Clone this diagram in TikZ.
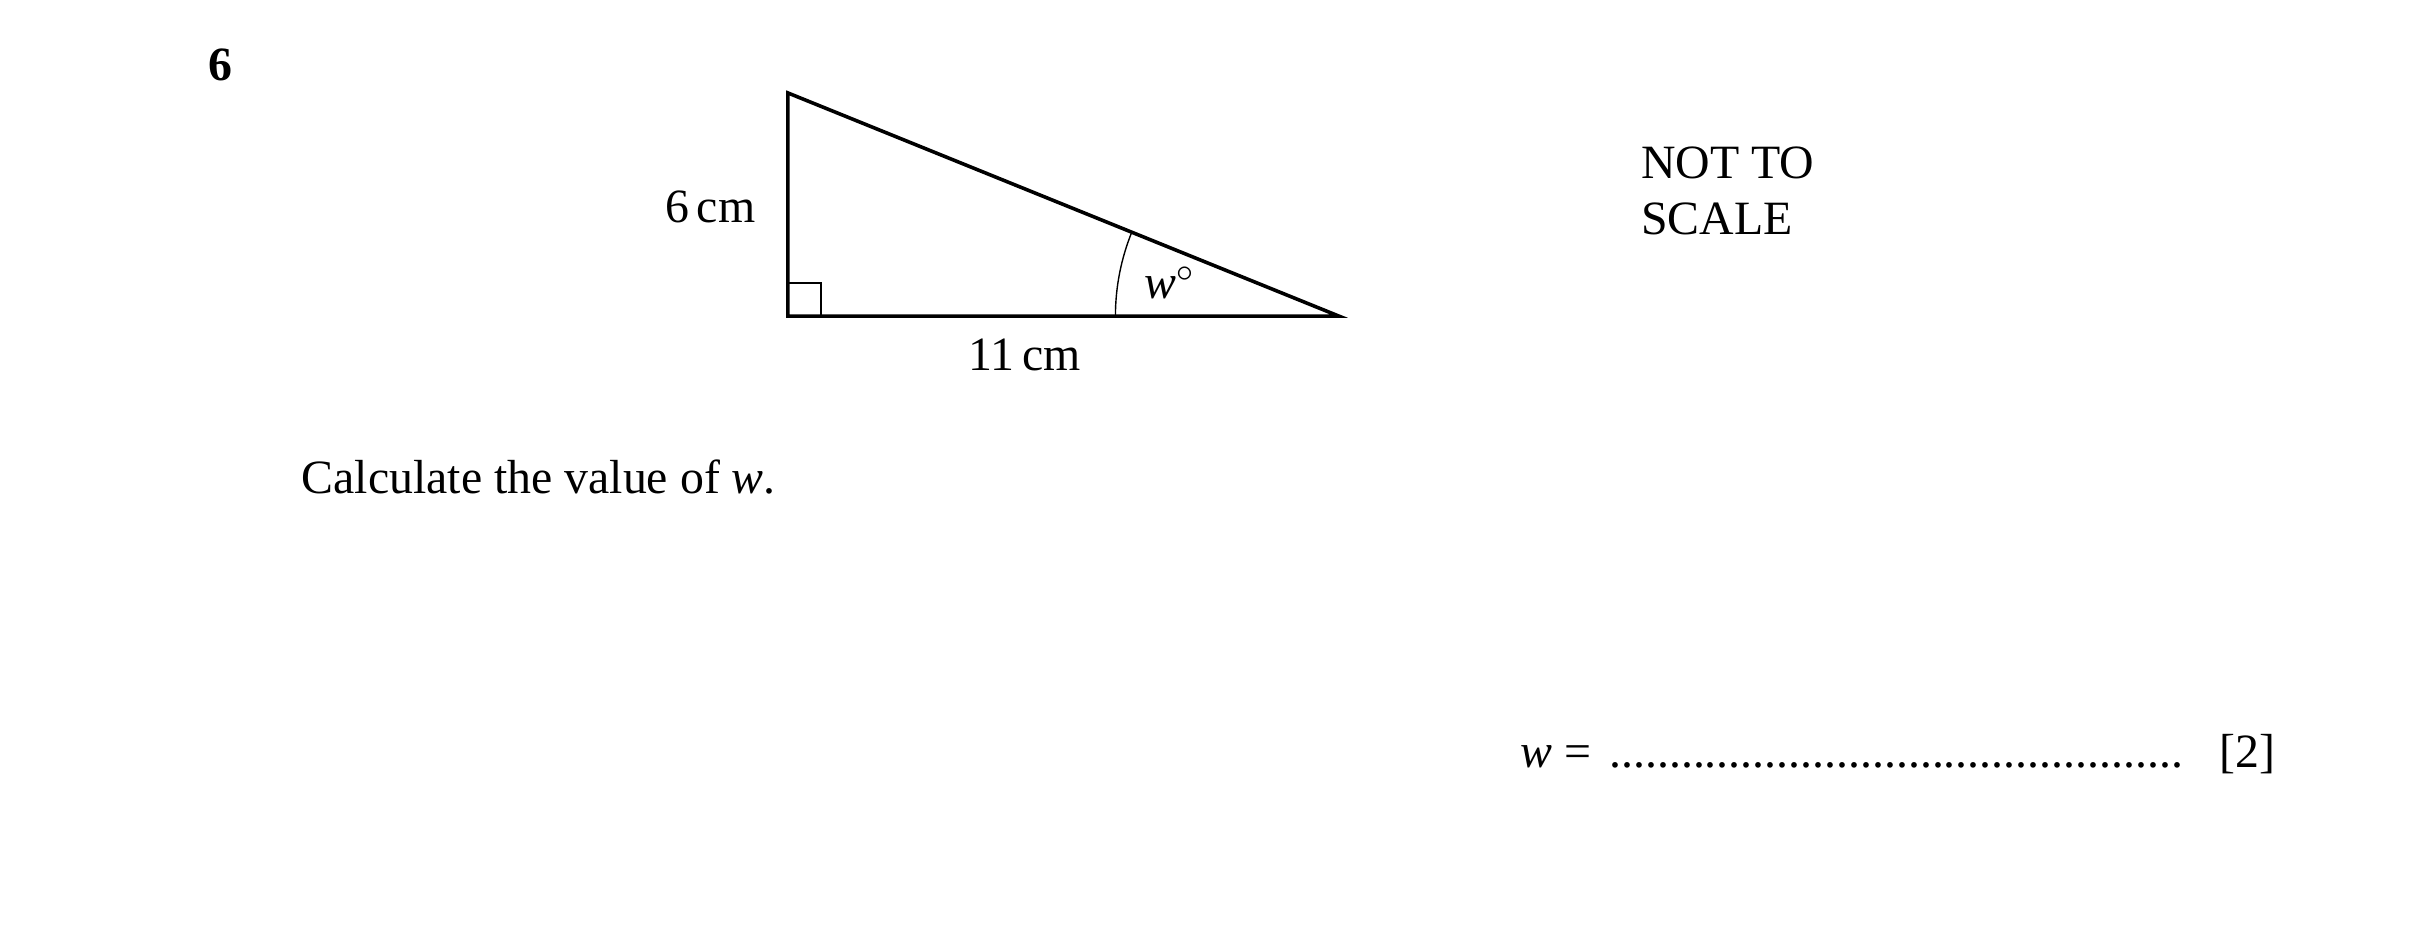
\documentclass[tikz,border=0pt]{standalone}
\usepackage{fontspec}
\setmainfont{Liberation Serif}
\usetikzlibrary{angles}
\begin{document}
\begin{tikzpicture}[font=\fontsize{12pt}{14pt}\selectfont]

      \tikzset{side/.style={line width=0.9pt, line join=miter},
               fine/.style={line width=0.35pt},
               txt/.style={inner sep=0pt, anchor=base west}}
      \useasboundingbox (0,0) rectangle (21.34,-8.213);
%% Vertices
      	\coordinate (A) at (6.951,-2.788);
      	\coordinate (B) at (6.951,-0.820);
    	\coordinate (C) at (11.81,-2.788);
%Sides
		\draw[side] (A) -- (B) -- (C) -- cycle;
		\draw[fine] (A) ++(0,0.29) -| ++(0.29,-0.29);
		\pic[draw, fine, angle radius=1.97cm, angle eccentricity=0.77,
		     pic text={\textit{w}$^\circ$}] {angle=B--C--A};
%Labels
		\node[txt, font=\fontsize{12pt}{14pt}\selectfont\bfseries] (qnum) at (1.835,-0.706) {6};
		\node[txt, anchor=base east] (lenAB) at (6.67,-1.96) {6\,cm};
		\node[txt, anchor=base] (lenAC) at (9.04,-3.264) {11\,cm};
		\node[txt] (note1) at (14.47,-1.579) {NOT TO};
		\node[txt] (note2) at (14.47,-2.07) {SCALE};
		\node[txt] (task) at (2.655,-4.357) {Calculate the value of \textit{w}.};
%Answer line
		\node[txt] (ans) at (13.41,-6.77) {\textit{w} =};
		\node[txt] (dots) at (14.19,-6.77) {................................................};
		\node[txt] (marks) at (19.57,-6.77) {[2]};

	\end{tikzpicture}
\end{document}
